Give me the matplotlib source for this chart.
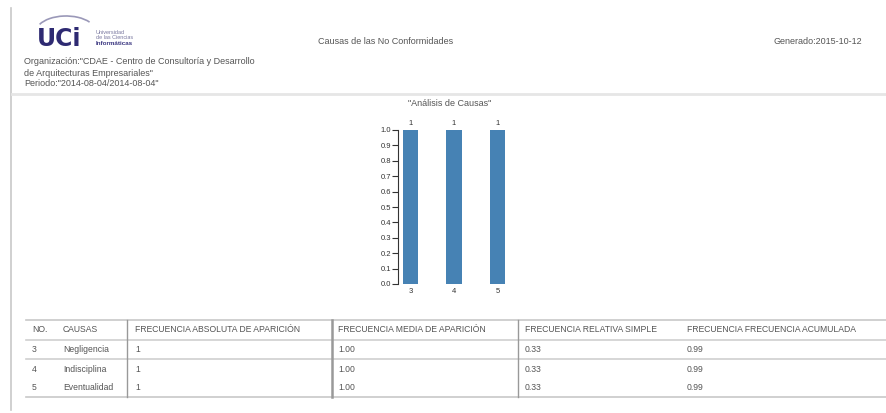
import matplotlib
matplotlib.use("Agg")
import matplotlib.pyplot as plt
from matplotlib.lines import Line2D
from matplotlib.patches import Arc

plt.rcParams['font.family'] = ['Liberation Sans', 'DejaVu Sans']

# data
nos = ["3", "4", "5"]
causas = ["Negligencia", "Indisciplina", "Eventualidad"]
frecuencia_absoluta = [1, 1, 1]
frecuencia_media = [1.00, 1.00, 1.00]
frecuencia_relativa = [0.33, 0.33, 0.33]
frecuencia_acumulada = [0.99, 0.99, 0.99]
columnas = ["NO.", "CAUSAS", "FRECUENCIA ABSOLUTA DE APARICIÓN",
            "FRECUENCIA MEDIA DE APARICIÓN", "FRECUENCIA RELATIVA SIMPLE",
            "FRECUENCIA FRECUENCIA ACUMULADA"]

W, H = 887, 413
TXT = "#555555"


def fx(x):
    return x / W


def fy(y):
    return 1 - y / H


fig = plt.figure(figsize=(W / 100, H / 100), dpi=100)


def hline(y, x0, x1, color="#cccccc", lw=1.0):
    fig.add_artist(Line2D([fx(x0), fx(x1)], [fy(y), fy(y)], color=color, lw=lw))


def vline(x, y0, y1, color="#cccccc", lw=1.0):
    fig.add_artist(Line2D([fx(x), fx(x)], [fy(y0), fy(y1)], color=color, lw=lw))


# page borders
vline(11.5, 8, 410, color="#c8c8c8", lw=1.2)
hline(94, 12, 887, color="#e6e6e6", lw=2)

# logo
arc_ax = fig.add_axes([fx(36), fy(32), fx(60), fy(12) - fy(32)])
arc_ax.add_patch(Arc((0.75, 0.0), 1.5, 1.6, theta1=40, theta2=150, color="#9a98b8", lw=1.2))
arc_ax.set_xlim(0, 1.5)
arc_ax.set_ylim(0, 1)
arc_ax.axis("off")
fig.text(fx(37), fy(38.5), "UCi", fontsize=17, fontweight="heavy", color="#2e2a72",
         va="center", ha="left", family="DejaVu Sans")
fig.text(fx(96), fy(32), "Universidad", fontsize=4, color="#7a78a0", va="center")
fig.text(fx(96), fy(37.5), "de las Ciencias", fontsize=4, color="#7a78a0", va="center")
fig.text(fx(96), fy(43.5), "Informáticas", fontsize=4.5, fontweight="bold", color="#3a3680", va="center")

# header texts
fig.text(fx(318), fy(42), "Causas de las No Conformidades", fontsize=6.5, color=TXT, va="center")
fig.text(fx(862), fy(42), "Generado:2015-10-12", fontsize=6.5, color=TXT, va="center", ha="right")
fig.text(fx(24), fy(62), 'Organización:"CDAE - Centro de Consultoría y Desarrollo',
         fontsize=6.5, color=TXT, va="center")
fig.text(fx(24), fy(73), 'de Arquitecturas Empresariales"', fontsize=6.5, color=TXT, va="center")
fig.text(fx(24), fy(84), 'Periodo:"2014-08-04/2014-08-04"', fontsize=6.5, color=TXT, va="center")

# bar chart
fig.text(fx(450), fy(104), '"Análisis de Causas"', fontsize=6.5, color=TXT, va="center", ha="center")
ax = fig.add_axes([fx(398), fy(284), fx(510) - fx(398), fy(130) - fy(284)])
xs = list(range(len(nos)))
ax.bar(xs, frecuencia_absoluta, width=0.35, color="#4682b4")
for x, v in zip(xs, frecuencia_absoluta):
    ax.text(x, v + 0.02, str(v), ha="center", va="bottom", fontsize=5.5, color="#333333")
ax.set_xlim(-0.29, 2.29)
ax.set_ylim(0, 1)
ax.set_yticks([i / 10 for i in range(11)])
ax.set_yticklabels([f"{i / 10:.1f}" for i in range(11)])
ax.set_xticks(xs)
ax.set_xticklabels(nos)
ax.tick_params(axis="y", length=4, width=0.8, labelsize=5.5, colors="#333333", pad=1)
ax.tick_params(axis="x", length=0, labelsize=5.5, colors="#333333", pad=3)
for s in ["top", "right", "bottom"]:
    ax.spines[s].set_visible(False)
ax.spines["left"].set_linewidth(0.8)
ax.spines["left"].set_color("#333333")
ax.patch.set_alpha(0)

# table
col_x = [32, 63, 135, 338, 525, 687]
hline(320, 26, 887, color="#c8c8c8", lw=1.2)
hline(340, 26, 887, color="#d0d0d0", lw=1.2)
hline(359, 26, 887, color="#d0d0d0", lw=1.2)
hline(397, 26, 887, color="#c8c8c8", lw=1.2)
vline(127, 320, 397, color="#999999", lw=1.0)
vline(332, 320, 397, color="#999999", lw=1.8)
vline(518, 320, 397, color="#999999", lw=1.0)

for x, c in zip(col_x, columnas):
    fig.text(fx(x), fy(329), c, fontsize=6.2, color=TXT, va="center")

row_y = [349, 369, 388]
for i, y in enumerate(row_y):
    vals = [nos[i], causas[i], str(frecuencia_absoluta[i]), f"{frecuencia_media[i]:.2f}",
            f"{frecuencia_relativa[i]:.2f}", f"{frecuencia_acumulada[i]:.2f}"]
    for x, v in zip(col_x, vals):
        fig.text(fx(x), fy(y), v, fontsize=6.2, color=TXT, va="center")

fig.savefig("out.png", dpi=100)
